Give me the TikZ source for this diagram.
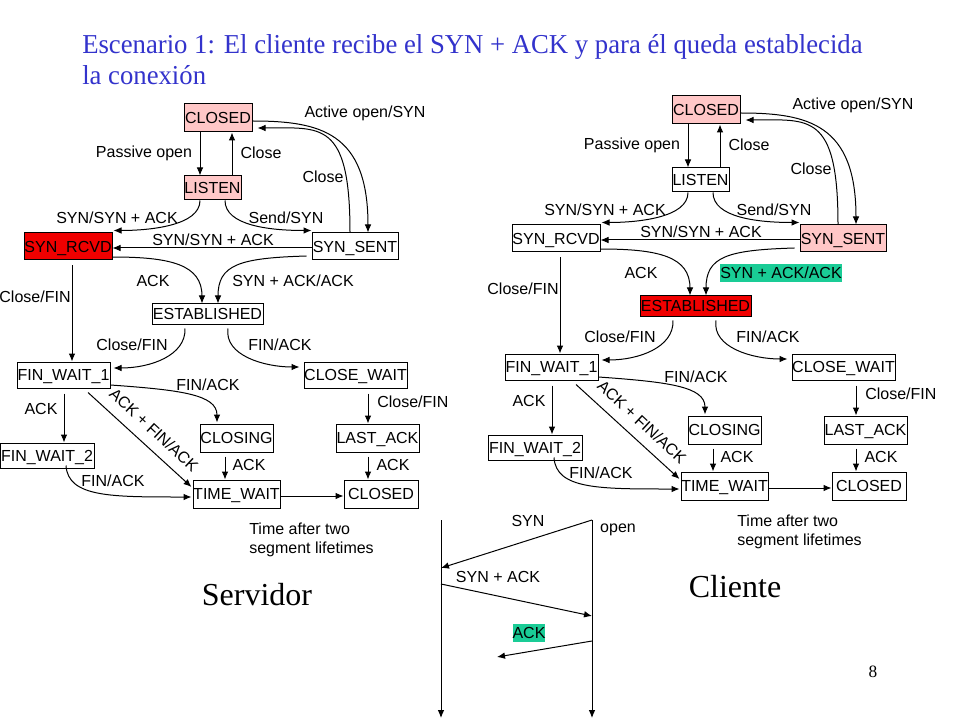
\documentclass[tikz,border=0pt]{standalone}
\usepackage{fontspec}
\usepackage{graphicx}
\setmainfont{Liberation Sans}
\newfontfamily\timesf{Liberation Serif}
\usetikzlibrary{calc,arrows.meta}
\definecolor{pinkfill}{RGB}{255,199,199}
\definecolor{redfill}{RGB}{240,0,0}
\definecolor{tealhl}{RGB}{26,204,150}
\definecolor{titleblue}{RGB}{51,51,204}
\tikzset{
  st/.style={draw=black, line width=0.75pt, inner sep=0pt, font=\fontsize{12}{14}\selectfont, text height=8.6pt, text depth=0pt},
  lbl/.style={inner sep=0pt, font=\fontsize{12}{14}\selectfont},
  hl/.style={inner xsep=0pt, inner ysep=2.6pt, text height=8.6pt, text depth=0pt, font=\fontsize{12}{14}\selectfont},
  arr/.style={line width=0.75pt, -{Latex[length=6pt,width=5pt]}},
  big/.style={inner sep=0pt, font=\timesf\fontsize{24}{28}\selectfont},
  ttl/.style={inner sep=0pt, anchor=base west, text=titleblue, font=\timesf\fontsize{20.5}{24}\selectfont},
  fC/.style={}, fL/.style={}, fR/.style={}, fS/.style={}, fE/.style={}, fH/.style={}
}
% #1 prefix, #2 dx, #3 dy (pixels)
\newcommand\fsm[3]{%
  \node[st,fC,minimum width=51pt,minimum height=21pt] (#1closed) at ({#2+218},{#3+118}) {CLOSED};
  \node[st,fL,minimum width=42.75pt,minimum height=18pt] (#1listen) at ({#2+212.5},{#3+188}) {LISTEN};
  \node[st,fR,minimum width=66pt,minimum height=20.25pt] (#1rcvd) at ({#2+68},{#3+246.5}) {SYN\_RCVD};
  \node[st,fS,minimum width=64.5pt,minimum height=20.25pt] (#1sent) at ({#2+355},{#3+246.5}) {SYN\_SENT};
  \node[st,fE,minimum width=83.25pt,minimum height=15pt] (#1est) at ({#2+207.5},{#3+314}) {ESTABLISHED};
  \node[st,minimum width=69.75pt,minimum height=19.5pt] (#1fwa) at ({#2+63.5},{#3+375}) {FIN\_WAIT\_1};
  \node[st,minimum width=77.25pt,minimum height=19.5pt] (#1cw) at ({#2+355.5},{#3+375}) {CLOSE\_WAIT};
  \node[st,minimum width=54.75pt,minimum height=21pt] (#1closing) at ({#2+236.5},{#3+438}) {CLOSING};
  \node[st,minimum width=62.25pt,minimum height=21pt] (#1lastack) at ({#2+377.5},{#3+438}) {LAST\_ACK};
  \node[st,minimum width=70.5pt,minimum height=18.75pt] (#1fwb) at ({#2+47},{#3+455.5}) {FIN\_WAIT\_2};
  \node[st,minimum width=65.25pt,minimum height=21pt] (#1tw) at ({#2+236.5},{#3+494}) {TIME\_WAIT};
  \node[st,minimum width=55.5pt,minimum height=21pt] (#1closedb) at ({#2+381},{#3+494}) {CLOSED};
  % connectors
  \draw[arr] ($(#1closed.south)+(-18,0)$) -- ($(#1listen.north)+(-12.5,0)$);
  \draw[arr] ($(#1listen.north)+(19.5,0)$) -- ($(#1closed.south)+(14,0)$);
  \draw[arr] ($(#1closed.east)+(0,3)$) .. controls +(68,0) and +(0,-100) .. ($(#1sent.north)+(13,0)$);
  \draw[arr] ($(#1sent.north)+(-5,0)$) .. controls +(0,-113) and +(63,0) .. ($(#1closed.east)+(5,10)$);
  \draw[arr] ($(#1listen.south)+(-12.5,0)$) .. controls +(0,25) and +(37,0) .. ($(#1rcvd.north east)+(1,-2)$);
  \draw[arr] ($(#1listen.south)+(12.5,0)$) .. controls +(0,25) and +(-42,0) .. ($(#1sent.north west)+(0,-2)$);
  \draw[arr] ($(#1sent.west)+(0,1.5)$) -- ($(#1rcvd.east)+(0,1.5)$);
  \draw[arr] ($(#1rcvd.east)+(0,10.5)$) .. controls +(58,0) and +(0,-39) .. ($(#1est.north)+(-5.5,0)$);
  \draw[arr] ($(#1sent.west)+(-5,9.5)$) .. controls +(-67,2) and +(0,-39) .. ($(#1est.north)+(10.5,0)$);
  \draw[arr] ($(#1rcvd.south)+(4,5)$) -- ($(#1fwa.north)+(8.5,0)$);
  \draw[arr] ($(#1est.south)+(-22.5,4)$) .. controls +(1,27) and +(37,0) .. ($(#1fwa.east)+(3,-7)$);
  \draw[arr] ($(#1est.south)+(20.5,4)$) .. controls +(-4,27) and +(-35,0) .. ($(#1cw.west)+(-4,-8)$);
  \draw[arr] ($(#1fwa.east)+(0,10)$) .. controls +(70,5) and +(0,-28) .. ($(#1closing.north)+(-19.5,-1)$);
  \draw[arr] ($(#1fwa.south)+(0.5,5)$) -- ($(#1fwb.north)+(17,0)$);
  \draw[arr] ($(#1fwa.south)+(24.5,4)$) -- ($(#1tw.west)+(-1,-7)$);
  \draw[arr] ($(#1cw.south)+(12.5,5)$) -- ($(#1lastack.north)+(-9.5,0)$);
  \draw[arr] ($(#1closing.south)+(-11.5,4)$) -- ($(#1tw.north)+(-11.5,0)$);
  \draw[arr] ($(#1lastack.south)+(-9.5,4)$) -- ($(#1closedb.north)+(-13,0)$);
  \draw[arr] ($(#1fwb.south)+(19,-3)$) .. controls +(2,32) and +(-80,0) .. ($(#1tw.west)+(-1,3)$);
  \draw[arr] ($(#1tw.east)+(0,2)$) -- ($(#1closedb.west)+(0,2)$);
  % labels
  \node[lbl] (#1la) at ({#2+365},{#3+113}) {Active open/SYN};
  \node[lbl] (#1lb) at ({#2+144},{#3+153}) {Passive open};
  \node[lbl] (#1lc) at ({#2+261},{#3+153}) {Close};
  \node[lbl] (#1ld) at ({#2+323},{#3+177}) {Close};
  \node[lbl] (#1le) at ({#2+117},{#3+218}) {SYN/SYN + ACK};
  \node[lbl] (#1lf) at ({#2+286},{#3+218}) {Send/SYN};
  \node[lbl] (#1lg) at ({#2+213},{#3+240}) {SYN/SYN + ACK};
  \node[lbl] (#1lh) at ({#2+153},{#3+281}) {ACK};
  \node[hl,fH] (#1li) at ({#2+293},{#3+281}) {SYN + ACK/ACK};
  \node[lbl] (#1lj) at ({#2+35},{#3+297}) {Close/FIN};
  \node[lbl] (#1lk) at ({#2+132},{#3+345}) {Close/FIN};
  \node[lbl] (#1ll) at ({#2+280},{#3+345}) {FIN/ACK};
  \node[lbl] (#1lm) at ({#2+208},{#3+385}) {FIN/ACK};
  \node[lbl,anchor=west] (#1ln) at ({#2+377},{#3+402}) {Close/FIN};
  \node[lbl] (#1lo) at ({#2+41},{#3+409}) {ACK};
  \node[lbl,rotate=-43] (#1lp) at ({#2+154},{#3+430}) {ACK + FIN/ACK};
  \node[lbl] (#1lq) at ({#2+249},{#3+465}) {ACK};
  \node[lbl] (#1lr) at ({#2+393},{#3+465}) {ACK};
  \node[lbl] (#1ls) at ({#2+113},{#3+481}) {FIN/ACK};
  \node[lbl,anchor=west,align=left,font=\fontsize{12}{14.3}\selectfont] (#1lt) at ({#2+249},{#3+539.5}) {Time after two\\segment lifetimes};
}
\begin{document}
\begin{tikzpicture}[x=0.75pt,y=-0.75pt]
\useasboundingbox[fill=white] (0,0) rectangle (960,720);
% title
\node[ttl] (t1) at (82,54) {\scalebox{0.977}[1]{Escenario 1: El cliente recibe el SYN + ACK y para él queda establecida}};
\node[ttl] (t2) at (82,85) {\scalebox{0.977}[1]{la conexión}};
% server diagram
\tikzset{fC/.style={fill=pinkfill}, fL/.style={fill=pinkfill}, fR/.style={fill=redfill}, fS/.style={}, fE/.style={}, fH/.style={}}
\fsm{L}{0}{0}
% client diagram
\tikzset{fC/.style={fill=pinkfill}, fL/.style={}, fR/.style={}, fS/.style={fill=pinkfill}, fE/.style={fill=redfill}, fH/.style={fill=tealhl}}
\fsm{R}{488}{-8}
\node[big] (serv) at (257,595) {Servidor};
\node[big] (cli) at (735,587) {Cliente};
\node[inner sep=0pt, font=\timesf\fontsize{13}{15}\selectfont] (pg) at (873,672) {8};
% sequence diagram
\coordinate (cT) at (441,520);
\coordinate (cB) at (441,718);
\coordinate (sT) at (592,520);
\coordinate (sB) at (592,718);
\coordinate (syn) at (441,568);
\coordinate (sa0) at (441,584);
\coordinate (sa1) at (592,616);
\coordinate (ack0) at (592,641);
\coordinate (ack1) at (497,657);
\draw[arr] (cT) -- (cB);
\draw[arr] (sT) -- (sB);
\draw[arr] (sT) -- (syn);
\draw[arr] (sa0) -- (sa1);
\draw[arr] (ack0) -- (ack1);
\node[lbl] (qsyn) at (528,521) {SYN};
\node[lbl] (qopen) at (618,530) {open};
\node[lbl] (qsa) at (498,577) {SYN + ACK};
\node[hl,fill=tealhl] (qack) at (529,633) {ACK};
\end{tikzpicture}
\end{document}
